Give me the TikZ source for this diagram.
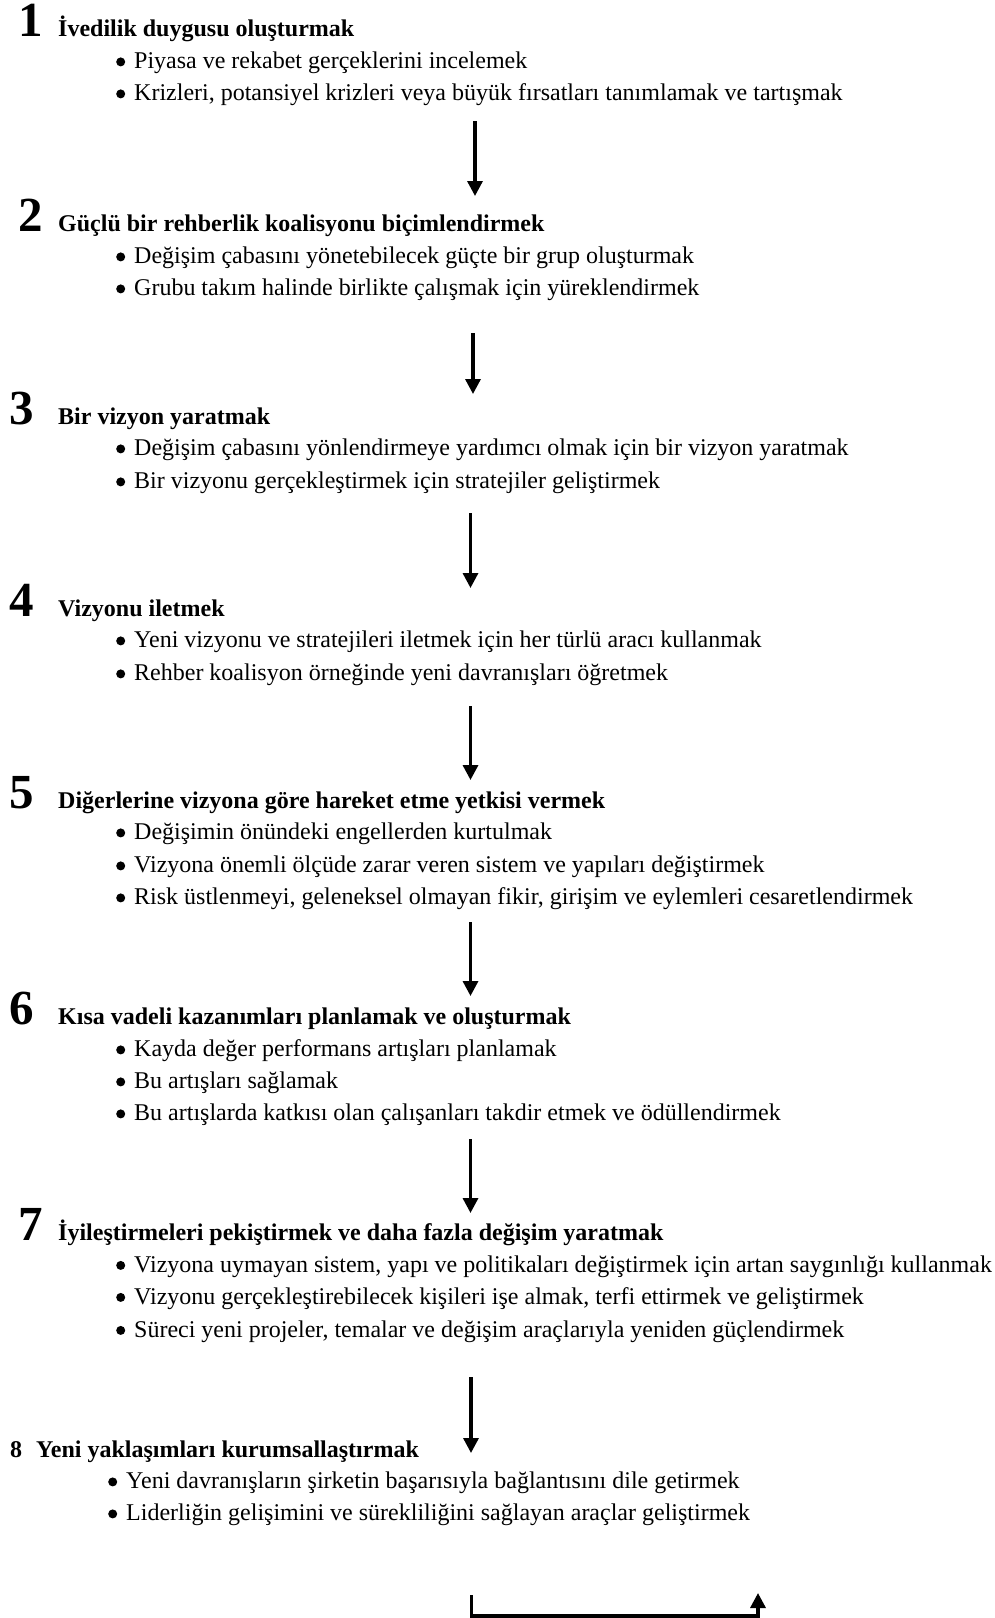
\documentclass[tikz,border=0pt]{standalone}
\usepackage{fontspec}
\setmainfont{Liberation Serif}
\usetikzlibrary{arrows.meta}
\newcommand{\bl}{\makebox[18pt][l]{\tikz[baseline=0pt]\fill (4.6pt,6.6pt) circle (4.5pt);}}
\begin{document}
\begin{tikzpicture}[x=1pt,y=-1pt,
  txt/.style={anchor=base west, inner sep=0pt, font=\fontsize{24}{28}\selectfont},
  head/.style={anchor=base west, inner sep=0pt, font=\fontsize{24}{28}\selectfont\bfseries},
  num/.style={anchor=base west, inner sep=0pt, font=\fontsize{49}{50}\selectfont\bfseries},
  flow/.style={line width=3.3pt, -{Triangle[width=15pt,length=15pt]}},
]
\useasboundingbox (0,0) rectangle (995,1618);

% Section 1
\node[num]  (n1) at (18,36.5) {1};
\node[head] (h1) at (58,36.5) {İvedilik duygusu oluşturmak};
\node[txt]  (b11) at (116,68.5) {\bl Piyasa ve rekabet gerçeklerini incelemek};
\node[txt]  (b12) at (116,100.5) {\bl Krizleri, potansiyel krizleri veya büyük fırsatları tanımlamak ve tartışmak};

% Section 2
\node[num]  (n2) at (18,231.5) {2};
\node[head] (h2) at (58,231.5) {Güçlü bir rehberlik koalisyonu biçimlendirmek};
\node[txt]  (b21) at (116,263.5) {\bl Değişim çabasını yönetebilecek güçte bir grup oluşturmak};
\node[txt]  (b22) at (116,295.5) {\bl Grubu takım halinde birlikte çalışmak için yüreklendirmek};

% Section 3
\node[num]  (n3) at (9,424.5) {3};
\node[head] (h3) at (58,424.5) {Bir vizyon yaratmak};
\node[txt]  (b31) at (116,455.5) {\bl Değişim çabasını yönlendirmeye yardımcı olmak için bir vizyon yaratmak};
\node[txt]  (b32) at (116,488.5) {\bl Bir vizyonu gerçekleştirmek için stratejiler geliştirmek};

% Section 4
\node[num]  (n4) at (9,616.5) {4};
\node[head] (h4) at (58,616.5) {Vizyonu iletmek};
\node[txt]  (b41) at (116,647.5) {\bl Yeni vizyonu ve stratejileri iletmek için her türlü aracı kullanmak};
\node[txt]  (b42) at (116,680.5) {\bl Rehber koalisyon örneğinde yeni davranışları öğretmek};

% Section 5
\node[num]  (n5) at (9,808.5) {5};
\node[head] (h5) at (58,808.5) {Diğerlerine vizyona göre hareket etme yetkisi vermek};
\node[txt]  (b51) at (116,839.5) {\bl Değişimin önündeki engellerden kurtulmak};
\node[txt]  (b52) at (116,872.5) {\bl Vizyona önemli ölçüde zarar veren sistem ve yapıları değiştirmek};
\node[txt]  (b53) at (116,904.5) {\bl Risk üstlenmeyi, geleneksel olmayan fikir, girişim ve eylemleri cesaretlendirmek};

% Section 6
\node[num]  (n6) at (9,1024.5) {6};
\node[head] (h6) at (58,1024.5) {Kısa vadeli kazanımları planlamak ve oluşturmak};
\node[txt]  (b61) at (116,1056.5) {\bl Kayda değer performans artışları planlamak};
\node[txt]  (b62) at (116,1088.5) {\bl Bu artışları sağlamak};
\node[txt]  (b63) at (116,1120.5) {\bl Bu artışlarda katkısı olan çalışanları takdir etmek ve ödüllendirmek};

% Section 7
\node[num]  (n7) at (18,1240) {7};
\node[head] (h7) at (58,1240) {İyileştirmeleri pekiştirmek ve daha fazla değişim yaratmak};
\node[txt]  (b71) at (116,1272) {\bl Vizyona uymayan sistem, yapı ve politikaları değiştirmek için artan saygınlığı kullanmak};
\node[txt]  (b72) at (116,1304) {\bl Vizyonu gerçekleştirebilecek kişileri işe almak, terfi ettirmek ve geliştirmek};
\node[txt]  (b73) at (116,1337) {\bl Süreci yeni projeler, temalar ve değişim araçlarıyla yeniden güçlendirmek};

% Section 8
\node[head] (n8) at (10,1457) {8};
\node[head] (h8) at (36,1457) {Yeni yaklaşımları kurumsallaştırmak};
\node[txt]  (b81) at (108,1488.5) {\bl Yeni davranışların şirketin başarısıyla bağlantısını dile getirmek};
\node[txt]  (b82) at (108,1520.5) {\bl Liderliğin gelişimini ve sürekliliğini sağlayan araçlar geliştirmek};

% Arrows
\coordinate (a1s) at (475,121);  \coordinate (a1e) at (475,196);
\coordinate (a2s) at (473,333);  \coordinate (a2e) at (473,394);
\coordinate (a3s) at (470.5,513);  \coordinate (a3e) at (470.5,588);
\coordinate (a4s) at (470.5,706);  \coordinate (a4e) at (470.5,780);
\coordinate (a5s) at (470.5,922);  \coordinate (a5e) at (470.5,996);
\coordinate (a6s) at (470.5,1139); \coordinate (a6e) at (470.5,1213);
\coordinate (a7s) at (471,1377); \coordinate (a7e) at (471,1453);
\draw[flow] (a1s) -- (a1e);
\draw[flow] (a2s) -- (a2e);
\draw[flow] (a3s) -- (a3e);
\draw[flow] (a4s) -- (a4e);
\draw[flow] (a5s) -- (a5e);
\draw[flow] (a6s) -- (a6e);
\draw[flow] (a7s) -- (a7e);

% Bottom return connector
\coordinate (ls)  at (471.5,1595);
\coordinate (lc1) at (471.5,1616);
\coordinate (lc2) at (758,1616);
\coordinate (le)  at (758,1593);
\draw[flow, line join=miter] (ls) -- (lc1) -- (lc2) -- (le);
\end{tikzpicture}
\end{document}
